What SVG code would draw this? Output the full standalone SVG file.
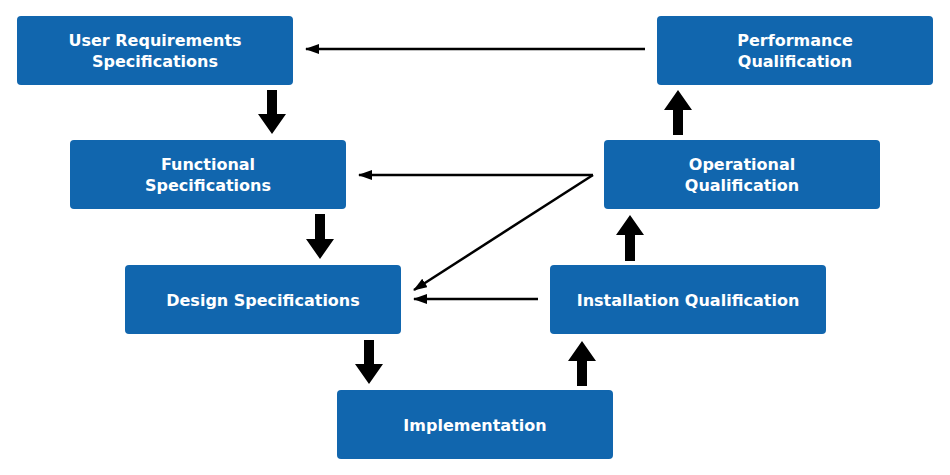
<svg xmlns="http://www.w3.org/2000/svg" width="950" height="475" viewBox="0 0 950 475">
<style>
.b{fill:#1166ae;}
.t{fill:#fff;font-family:"DejaVu Sans",Verdana,sans-serif;font-weight:bold;font-size:16px;text-anchor:middle;}
.th{stroke:#000;stroke-width:2.5;fill:none;marker-end:url(#ah);}
.fat{fill:#000;}
</style>
<defs>
<marker id="ah" markerWidth="14" markerHeight="10" refX="13" refY="5" orient="auto" markerUnits="userSpaceOnUse"><path d="M0,0 L14,5 L0,10 Z" fill="#000"/></marker>
</defs>
<rect width="950" height="475" fill="#fff"/>
<g id="urs"><rect class="b" x="17" y="16" width="276" height="69" rx="4"/><text class="t" x="155" y="46">User Requirements</text><text class="t" x="155" y="67">Specifications</text></g>
<g id="pq"><rect class="b" x="657" y="16" width="276" height="69" rx="4"/><text class="t" x="795" y="46">Performance</text><text class="t" x="795" y="67">Qualification</text></g>
<g id="fs"><rect class="b" x="70" y="140" width="276" height="69" rx="4"/><text class="t" x="208" y="170">Functional</text><text class="t" x="208" y="191">Specifications</text></g>
<g id="oq"><rect class="b" x="604" y="140" width="276" height="69" rx="4"/><text class="t" x="742" y="170">Operational</text><text class="t" x="742" y="191">Qualification</text></g>
<g id="ds"><rect class="b" x="125" y="265" width="276" height="69" rx="4"/><text class="t" x="263" y="306">Design Specifications</text></g>
<g id="iq"><rect class="b" x="550" y="265" width="276" height="69" rx="4"/><text class="t" x="688" y="306">Installation Qualification</text></g>
<g id="impl"><rect class="b" x="337" y="390" width="276" height="69" rx="4"/><text class="t" x="475" y="431">Implementation</text></g>
<g id="connectors">
<line class="th" x1="645" y1="49" x2="306" y2="49"/>
<line class="th" x1="593" y1="175" x2="359" y2="175"/>
<line class="th" x1="593" y1="175" x2="414" y2="290"/>
<line class="th" x1="538" y1="299" x2="414" y2="299"/>
<path class="fat" d="M267,90 h10 v24 h9 l-14,20 l-14,-20 h9 Z"/>
<path class="fat" d="M315,214 h10 v25 h9 l-14,20 l-14,-20 h9 Z"/>
<path class="fat" d="M364,340 h10 v24 h9 l-14,20 l-14,-20 h9 Z"/>
<path class="fat" d="M577,386 h10 v-25 h9 l-14,-20 l-14,20 h9 Z"/>
<path class="fat" d="M625,261 h10 v-26 h9 l-14,-20 l-14,20 h9 Z"/>
<path class="fat" d="M673,135 h10 v-25 h9 l-14,-20 l-14,20 h9 Z"/>
</g>
</svg>
